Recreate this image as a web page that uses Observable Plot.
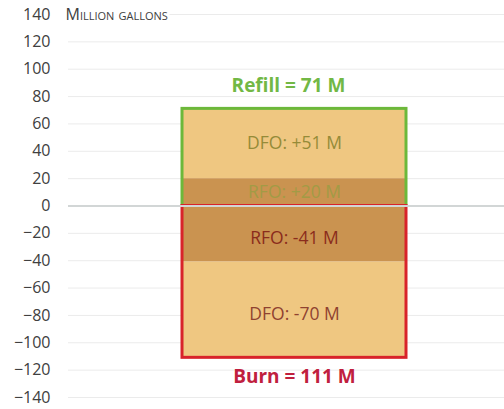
<!DOCTYPE html>
<html>
<head>
<meta charset="utf-8">
<script src="https://cdn.jsdelivr.net/npm/d3@7"></script>
<script src="https://cdn.jsdelivr.net/npm/@observablehq/plot@0.6"></script>
<style>
  html, body { margin: 0; padding: 0; background: #fff; }
  #chart svg { display: block; }
</style>
</head>
<body>
<div id="chart"></div>
<script>
// ---- data ----
const fuels = ["RFO", "DFO", "RFO", "DFO"];
const changes = [20, 51, -41, -70];
const segmentLabels = ["RFO: +20 M", "DFO: +51 M", "RFO: -41 M", "DFO: -70 M"];
const totalNames = ["Refill", "Burn"];
const totalValues = [71, -111];
const totalLabels = ["Refill = 71 M", "Burn = 111 M"];
const yTicks = [140, 120, 100, 80, 60, 40, 20, 0, -20, -40, -60, -80, -100, -120, -140];
const unitLabel = "Million gallons";

const segments = fuels.map((f, i) => ({group: "Net", fuel: f, value: changes[i], label: segmentLabels[i], idx: i}));
const totals = totalNames.map((n, i) => ({group: "Net", name: n, value: totalValues[i], label: totalLabels[i]}));

const fillColor = {RFO: "#ca9350", DFO: "#efc781"};
const segTextColor = ["#a29b45", "#958b38", "#8a2c1c", "#8f4230"];
const totalColor = {Refill: "#6cb83a", Burn: "#d8232a"};
const totalTextColor = {Refill: "#72b845", Burn: "#c0203e"};

const font = "'Open Sans', sans-serif";

const chart = Plot.plot({
  width: 504,
  height: 409,
  marginLeft: 68,
  marginRight: 0,
  marginTop: 14,
  marginBottom: 12,
  style: {fontFamily: font, background: "#fff"},
  x: {type: "band", domain: ["Net"], paddingOuter: 0.473, paddingInner: 0, align: 0.54, axis: null},
  y: {domain: [-140, 140], ticks: yTicks},
  marks: [
    Plot.ruleY(yTicks, {stroke: "#ebebeb", strokeWidth: 1}),
    Plot.axisY({ticks: yTicks, tickSize: 0, tickPadding: 18, fontSize: 16, color: "#404040", label: null}),
    Plot.barY(segments, Plot.stackY({
      x: "group", y: "value",
      fill: d => fillColor[d.fuel]
    })),
    Plot.barY(totals, {
      x: "group", y1: 0, y2: "value",
      fill: "none",
      stroke: d => totalColor[d.name],
      strokeWidth: 3
    }),
    Plot.ruleY([0], {stroke: "#d2d6d6", strokeWidth: 2}),
    Plot.text(segments, Plot.stackY({
      x: "group", y: "value", text: "label",
      fill: d => segTextColor[d.idx],
      fontSize: 17.5,
      dy: 0,
      filter: d => d.value > 0
    })),
    Plot.text(segments, Plot.stackY({
      x: "group", y: "value", text: "label",
      fill: d => segTextColor[d.idx],
      fontSize: 17.5,
      dy: 4,
      filter: d => d.value < 0
    })),
    Plot.text(totals.filter(d => d.value > 0), {
      x: "group", y: "value", text: "label",
      fill: d => totalTextColor[d.name], fontWeight: "bold", fontSize: 19, dy: -23, dx: -6
    }),
    Plot.text(totals.filter(d => d.value < 0), {
      x: "group", y: "value", text: "label",
      fill: d => totalTextColor[d.name], fontWeight: "bold", fontSize: 19, dy: 19
    }),
    Plot.text([unitLabel], {
      y: 140, frameAnchor: "left", text: d => d, textAnchor: "start",
      dx: -3, fontSize: 16, fill: "#404040",
      stroke: "white", strokeWidth: 6
    })
  ]
});

chart.querySelectorAll("text").forEach(t => {
  if (t.textContent === unitLabel) t.style.fontVariant = "small-caps";
});
document.getElementById("chart").appendChild(chart);
</script>
</body>
</html>
